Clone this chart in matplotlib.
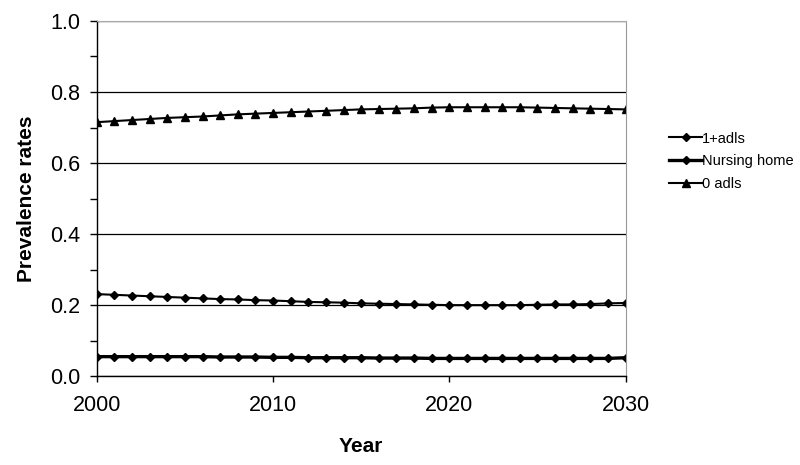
import matplotlib
matplotlib.use("Agg")
import matplotlib.pyplot as plt
from matplotlib.ticker import MultipleLocator, FormatStrFormatter

plt.rcParams['font.family'] = ['Liberation Sans', 'DejaVu Sans']

years = list(range(2000, 2031))

adls_1plus = [0.231, 0.229, 0.227, 0.225, 0.223, 0.221, 0.219, 0.217, 0.216, 0.214,
              0.213, 0.211, 0.209, 0.208, 0.207, 0.205, 0.204, 0.203, 0.202, 0.201,
              0.200, 0.200, 0.200, 0.200, 0.200, 0.201, 0.202, 0.202, 0.203, 0.205,
              0.206]
nursing_home = [0.055, 0.055, 0.055, 0.055, 0.055, 0.055, 0.055, 0.054, 0.054, 0.054,
                0.053, 0.053, 0.052, 0.052, 0.052, 0.052, 0.051, 0.051, 0.051, 0.050,
                0.050, 0.050, 0.050, 0.050, 0.050, 0.050, 0.050, 0.050, 0.050, 0.050,
                0.052]
adls_0 = [0.715, 0.718, 0.721, 0.724, 0.727, 0.729, 0.731, 0.734, 0.737, 0.739,
          0.741, 0.743, 0.745, 0.747, 0.749, 0.751, 0.752, 0.753, 0.754, 0.756,
          0.757, 0.757, 0.757, 0.757, 0.757, 0.756, 0.755, 0.754, 0.753, 0.752,
          0.751]

fig = plt.figure(figsize=(8, 4.65), dpi=100)
ax = fig.add_axes([0.121, 0.191, 0.661, 0.764])

ax.plot(years, adls_1plus, color='black', lw=1.5, marker='D', ms=4, label='1+adls')
ax.plot(years, nursing_home, color='black', lw=2.4, marker='D', ms=4, label='Nursing home')
ax.plot(years, adls_0, color='black', lw=1.5, marker='^', ms=6, label='0 adls')

ax.set_xlim(2000, 2030)
ax.set_ylim(0, 1.0)
ax.xaxis.set_major_locator(MultipleLocator(10))
ax.yaxis.set_major_locator(MultipleLocator(0.2))
ax.yaxis.set_minor_locator(MultipleLocator(0.1))
ax.yaxis.set_major_formatter(FormatStrFormatter('%.1f'))
ax.grid(axis='y', which='major', color='black', lw=0.9)
ax.set_axisbelow(True)

ax.tick_params(axis='both', which='major', labelsize=15.5, direction='out', width=1)
ax.tick_params(axis='x', which='major', length=4.5, pad=9)
ax.tick_params(axis='y', which='major', length=5, pad=7)
ax.tick_params(axis='y', which='minor', direction='out', length=5, width=1)

ax.spines['top'].set_color('#aaaaaa')
ax.spines['right'].set_color('#999999')
ax.spines['left'].set_linewidth(1)
ax.spines['bottom'].set_linewidth(1)

ax.set_xlabel('Year', fontsize=15, fontweight='bold', labelpad=15)
ax.set_ylabel('Prevalence rates', fontsize=15, fontweight='bold', labelpad=10)

ax.legend(loc='center left', bbox_to_anchor=(1.083, 0.605), frameon=False,
          borderaxespad=0, borderpad=0, fontsize=10.5, handlelength=2.2,
          handletextpad=0.0, labelspacing=0.6)

fig.savefig('out.png', dpi=100)
